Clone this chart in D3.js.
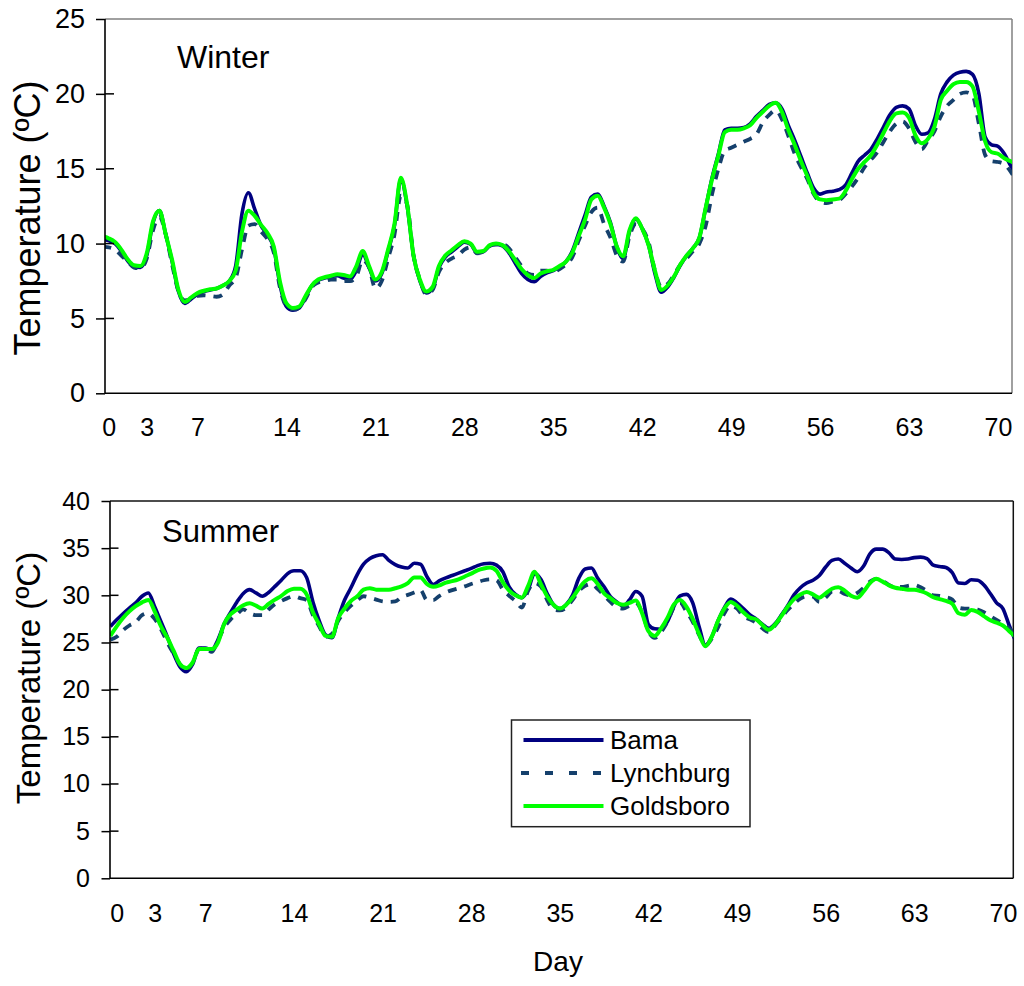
<!DOCTYPE html>
<html>
<head>
<meta charset="utf-8">
<script src="https://cdn.jsdelivr.net/npm/d3@7"></script>
<style>
  body { margin: 0; background: #fff; }
  svg { display: block; }
  text { font-family: "Liberation Sans", Arial, sans-serif; fill: #000; }
</style>
</head>
<body>
<svg id="chart" width="1024" height="986"></svg>
<script>
// ---------------- DATA ----------------
const seriesNames = ["Bama", "Lynchburg", "Goldsboro"];
const xTickDays = [0, 3, 7, 14, 21, 28, 35, 42, 49, 56, 63, 70];
const winterYTicks = [0, 5, 10, 15, 20, 25];
const summerYTicks = [0, 5, 10, 15, 20, 25, 30, 35, 40];
const dayStart = -0.5;   // first sample (day)
const dayStep = 0.5;     // sampling step (day)

// Winter temperatures (ºC), sampled every half day from day -0.5 to 71.5
const winterBama = [
  10.3, 10.2, 10.0, 9.5, 8.85, 8.45, 8.4, 9.2, 11.4, 12.2,
  10.6, 8.8, 6.8, 6.0, 6.3, 6.6, 6.8, 6.9, 7.0, 7.2,
  7.5, 8.5, 12.0, 13.4, 12.3, 11.2, 10.6, 9.7, 7.2, 5.8,
  5.55, 5.7, 6.4, 7.2, 7.55, 7.7, 7.8, 7.85, 7.7, 7.6,
  8.2, 9.3, 8.4, 7.5, 8.0, 9.5, 11.2, 14.3, 12.5, 9.2,
  7.5, 6.7, 7.0, 8.4, 9.1, 9.45, 9.8, 10.1, 9.95, 9.4,
  9.45, 9.85, 9.95, 9.85, 9.4, 8.7, 8.0, 7.6, 7.45, 7.8,
  8.05, 8.2, 8.45, 8.8, 9.5, 10.7, 11.9, 13.1, 13.3, 12.5,
  11.4, 9.8, 9.0, 10.8, 11.65, 11.0, 9.9, 8.0, 6.75, 7.1,
  7.75, 8.55, 9.2, 9.7, 10.4, 12.4, 14.4, 16.0, 17.6, 17.7,
  17.7, 17.75, 18.0, 18.5, 18.9, 19.3, 19.4, 19.0, 17.9, 16.9,
  15.8, 14.7, 13.7, 13.3, 13.45, 13.5, 13.6, 13.9, 14.7, 15.5,
  15.9, 16.3, 17.0, 17.8, 18.6, 19.1, 19.2, 19.0, 17.9, 17.3,
  17.4, 18.3, 20.0, 20.8, 21.25, 21.45, 21.5, 21.3, 20.0, 17.1,
  16.6, 16.5, 16.0, 15.2, 14.5
];
const winterLynchburg = [
  9.8, 9.75, 9.6, 9.2, 8.8, 8.4, 8.35, 9.0, 10.9, 11.8,
  10.6, 8.6, 6.8, 6.2, 6.3, 6.5, 6.55, 6.5, 6.45, 6.6,
  7.2, 7.7, 9.6, 11.2, 11.3, 10.8, 10.3, 9.4, 7.0, 5.8,
  5.6, 5.7, 6.3, 7.1, 7.4, 7.5, 7.6, 7.6, 7.5, 7.5,
  7.8, 8.9, 8.4, 7.0, 7.5, 9.0, 10.6, 13.2, 12.6, 9.2,
  7.6, 6.6, 6.9, 8.1, 8.7, 9.0, 9.2, 9.6, 9.75, 9.35,
  9.45, 9.85, 9.95, 9.95, 9.7, 9.1, 8.5, 8.0, 7.9, 8.2,
  8.2, 8.1, 8.3, 8.6, 9.1, 10.2, 11.2, 12.1, 12.4, 11.3,
  10.4, 9.2, 8.8, 10.5, 11.3, 11.0, 10.1, 8.2, 7.1, 7.3,
  7.9, 8.6, 9.0, 9.5, 10.0, 11.2, 13.3, 15.0, 16.2, 16.4,
  16.6, 16.8, 17.0, 17.3, 18.1, 18.6, 18.9, 18.3, 17.2, 16.0,
  15.1, 14.3, 13.3, 12.8, 12.7, 12.8, 12.9, 13.3, 13.8, 14.4,
  15.1, 15.6, 16.1, 16.8, 17.5, 18.0, 18.15, 17.7, 16.8, 16.3,
  16.9, 17.5, 18.5, 19.2, 19.6, 20.0, 20.1, 19.9, 18.0, 15.9,
  15.5, 15.45, 15.3, 14.8, 14.1
];
const winterGoldsboro = [
  10.5, 10.35, 10.1, 9.6, 8.95, 8.55, 8.5, 9.35, 11.5, 12.2,
  10.6, 8.9, 6.9, 6.1, 6.4, 6.7, 6.85, 6.95, 7.0, 7.2,
  7.5, 8.2, 10.8, 12.2, 11.85, 11.25, 10.7, 9.8, 7.4, 6.0,
  5.7, 5.8, 6.5, 7.2, 7.6, 7.75, 7.85, 7.95, 7.9, 7.8,
  8.5, 9.5, 8.5, 7.6, 8.1, 9.6, 11.3, 14.4, 12.6, 9.2,
  7.6, 6.8, 7.1, 8.5, 9.2, 9.55, 9.9, 10.15, 10.0, 9.45,
  9.5, 9.9, 10.0, 9.9, 9.5, 8.9, 8.3, 7.9, 7.7, 8.0,
  8.15, 8.25, 8.5, 8.8, 9.4, 10.5, 11.6, 12.95, 13.2, 12.4,
  11.3, 9.8, 9.15, 10.9, 11.7, 11.0, 9.9, 8.2, 6.9, 7.2,
  7.8, 8.6, 9.2, 9.7, 10.4, 12.4, 14.3, 15.9, 17.45, 17.6,
  17.6, 17.7, 17.9, 18.4, 18.8, 19.2, 19.4, 18.8, 17.6, 16.6,
  15.5, 14.5, 13.4, 12.95, 12.9, 12.95, 13.0, 13.5, 14.3, 15.0,
  15.45, 15.9, 16.6, 17.4, 18.2, 18.7, 18.75, 18.4, 17.25, 16.7,
  17.0, 17.8, 19.6, 20.2, 20.65, 20.8, 20.8, 20.5, 18.8, 16.8,
  16.1, 16.0, 15.7, 15.5, 15.3
];

// Summer temperatures (ºC), sampled every half day from day -0.5 to 71.5
const summerBama = [
  26.7, 27.4, 28.05, 28.65, 29.2, 29.9, 30.25, 28.8, 27.2, 25.6,
  23.8, 22.4, 21.9, 22.7, 24.4, 24.4, 24.2, 25.3, 27.0, 28.2,
  29.3, 30.2, 30.6, 30.25, 29.9, 30.3, 30.95, 31.6, 32.3, 32.6,
  32.6, 31.9, 29.3, 27.3, 25.8, 25.5, 27.6, 29.5, 30.8, 32.2,
  33.3, 33.9, 34.2, 34.3, 33.7, 33.25, 33.0, 32.9, 33.4, 33.3,
  32.0, 31.15, 31.55, 31.85, 32.1, 32.35, 32.6, 32.85, 33.15, 33.35,
  33.4, 33.2, 32.5, 30.9, 30.1, 29.75, 30.6, 32.3, 31.7, 30.2,
  29.0, 28.6, 29.0, 30.0, 31.8, 32.8, 32.9, 31.8, 30.9, 29.85,
  29.3, 28.85, 29.5, 30.4, 29.9, 26.9, 26.45, 26.4, 27.2, 28.8,
  29.95, 30.1, 29.2, 26.7, 24.7, 25.6, 27.3, 28.7, 29.6, 29.2,
  28.6, 27.95, 27.5, 26.95, 26.5, 27.0, 27.9, 28.9, 30.05, 30.8,
  31.3, 31.6, 32.1, 33.0, 33.7, 33.85, 33.4, 32.9, 32.5, 33.1,
  34.4, 34.9, 34.9, 34.5, 33.85, 33.8, 33.85, 34.0, 34.05, 33.9,
  33.2, 33.05, 32.95, 32.4, 31.3, 31.25, 31.65, 31.6, 31.1, 30.2,
  29.2, 28.6, 26.8, 25.2, 24.5
];
const summerLynchburg = [
  25.3, 25.6, 26.3, 26.8, 27.15, 27.9, 28.1, 27.5, 26.4, 25.0,
  23.8, 22.7, 22.1, 22.8, 24.3, 24.4, 24.0, 25.2, 26.6, 27.45,
  28.0, 28.5, 28.1, 27.9, 27.9, 28.5, 29.05, 29.4, 29.7, 29.9,
  29.7, 29.5, 27.9, 26.7, 25.6, 25.9, 27.3, 28.2, 28.9, 29.45,
  29.9, 29.75, 29.55, 29.35, 29.3, 29.35, 29.8, 30.05, 30.3, 30.55,
  29.5, 29.5, 29.95, 30.3, 30.55, 30.75, 30.95, 31.2, 31.4, 31.6,
  31.7, 31.6, 30.6, 29.95, 29.4, 28.7, 30.5, 31.3, 30.95, 29.5,
  28.5, 28.4, 28.7, 29.5, 30.45, 31.0, 31.2, 30.65, 30.0, 29.3,
  28.75, 28.6, 28.9, 29.2, 28.2, 26.2, 25.5, 26.1, 27.2, 28.7,
  29.2, 28.3, 27.2, 25.8, 24.7, 25.4, 26.6, 28.1, 28.9, 28.6,
  27.75, 27.45, 27.1, 26.5, 26.1, 26.8, 27.65, 28.45, 29.1, 29.65,
  29.9, 29.85, 29.3, 29.75, 30.4, 30.45, 30.15, 30.0, 30.25, 30.8,
  31.45, 31.75, 31.55, 31.1, 30.9, 30.9, 31.0, 31.1, 30.85, 30.45,
  30.0, 29.95, 29.8, 29.55, 28.7, 28.6, 28.6, 28.5, 28.2, 27.8,
  27.4, 27.0, 26.5, 25.8, 25.3
];
const summerGoldsboro = [
  25.7, 26.7, 27.6, 28.3, 28.85, 29.25, 29.5, 28.3, 26.7, 25.5,
  24.1, 22.7, 22.3, 22.9, 24.3, 24.3, 24.3, 25.0, 27.0, 28.0,
  28.5, 28.95, 29.15, 28.9, 28.6, 29.1, 29.55, 29.95, 30.45, 30.7,
  30.7, 30.1, 28.2, 26.9, 25.7, 25.6, 27.6, 28.6, 29.4, 29.9,
  30.6, 30.75, 30.6, 30.6, 30.6, 30.75, 30.95, 31.3, 31.9, 31.9,
  31.2, 30.9, 31.05, 31.35, 31.5, 31.7, 32.0, 32.3, 32.65, 32.85,
  32.95, 32.6, 31.4, 30.5, 30.0, 29.75, 31.0, 32.5, 31.2, 29.9,
  29.0, 28.6, 29.0, 29.75, 30.7, 31.5, 31.8, 31.2, 30.2, 29.7,
  29.2, 29.0, 29.2, 29.45, 28.1, 26.2, 25.7, 26.5, 27.6, 29.0,
  29.5, 28.8, 27.5, 25.9, 24.6, 25.6, 27.3, 28.6, 29.3, 28.9,
  28.2, 27.65, 27.45, 26.85, 26.35, 26.9, 27.8, 28.8, 29.6, 30.1,
  30.35, 30.1, 29.75, 30.2, 30.7, 30.85, 30.5, 29.95, 29.75, 30.4,
  31.3, 31.75, 31.45, 31.05, 30.8, 30.7, 30.6, 30.6, 30.45, 30.2,
  29.8, 29.6, 29.4, 29.1, 28.1, 27.95, 28.45, 28.25, 27.8, 27.35,
  27.1, 26.8, 26.2, 25.6, 25.2
];

// ---------------- STYLE ----------------
const seriesStyle = {
  Bama:      { color: "#000080", width: 3.6, dash: null },
  Lynchburg: { color: "#15406c", width: 3.8, dash: "9,8" },
  Goldsboro: { color: "#00ff00", width: 4.0, dash: null }
};

const svg = d3.select("#chart");

function drawPanel(cfg) {
  const g = svg.append("g");
  const x = d3.scaleLinear().domain([0, 70]).range([cfg.x0, cfg.x70]);
  const y = d3.scaleLinear().domain(cfg.yDomain).range([cfg.bottom, cfg.top]);

  // clip
  const clipId = "clip-" + cfg.id;
  svg.append("defs").append("clipPath").attr("id", clipId)
    .append("rect")
    .attr("x", cfg.left).attr("y", cfg.top - 5)
    .attr("width", cfg.right - cfg.left).attr("height", cfg.bottom - cfg.top + 5);

  // frame top / right
  g.append("line").attr("x1", cfg.left).attr("x2", cfg.right)
    .attr("y1", cfg.top).attr("y2", cfg.top)
    .attr("stroke", cfg.frameColor).attr("stroke-width", 1.5);
  g.append("line").attr("x1", cfg.right).attr("x2", cfg.right)
    .attr("y1", cfg.top).attr("y2", cfg.bottom)
    .attr("stroke", cfg.frameColor).attr("stroke-width", 1.5);

  // series
  const lineGen = d3.line()
    .x((v, i) => x(dayStart + i * dayStep))
    .y(v => y(v))
    .curve(d3.curveMonotoneX);
  const lg = g.append("g").attr("clip-path", `url(#${clipId})`);
  cfg.series.forEach((vals, k) => {
    const st = seriesStyle[seriesNames[k]];
    lg.append("path")
      .datum(vals)
      .attr("d", lineGen)
      .attr("fill", "none")
      .attr("stroke", st.color)
      .attr("stroke-width", st.width)
      .attr("stroke-linejoin", "round")
      .attr("stroke-dasharray", st.dash);
  });

  // y axis
  const yAxis = d3.axisLeft(y).tickValues(cfg.yTicks).tickSize(cfg.tickLen)
    .tickSizeOuter(0).tickPadding(cfg.yPad).tickFormat(d3.format("d"));
  const ya = g.append("g").attr("transform", `translate(${cfg.left},0)`).call(yAxis);
  ya.select(".domain").remove();
  ya.selectAll(".tick line").attr("stroke", "#000").attr("stroke-width", 1.5);
  ya.selectAll(".tick text").attr("font-size", cfg.yFont)
    .attr("font-family", '"Liberation Sans", Arial, sans-serif').attr("fill", "#000");
  // inward part of crossing ticks
  g.selectAll(".intick").data(cfg.yTicks.filter(t => t !== cfg.yDomain[0] && t !== cfg.yDomain[1]))
    .enter().append("line")
    .attr("x1", cfg.left).attr("x2", cfg.left + cfg.tickLen)
    .attr("y1", d => y(d)).attr("y2", d => y(d))
    .attr("stroke", "#000").attr("stroke-width", 1.5);

  // axis lines
  g.append("line").attr("x1", cfg.left).attr("x2", cfg.left)
    .attr("y1", cfg.top).attr("y2", cfg.bottom)
    .attr("stroke", "#000").attr("stroke-width", 1.6);
  g.append("line").attr("x1", cfg.left).attr("x2", cfg.right)
    .attr("y1", cfg.bottom).attr("y2", cfg.bottom)
    .attr("stroke", "#000").attr("stroke-width", 1.6);

  // x axis labels (no ticks)
  const xAxis = d3.axisBottom(x).tickValues(xTickDays).tickSize(0)
    .tickPadding(cfg.xPad).tickFormat(d3.format("d"));
  const xa = g.append("g").attr("transform", `translate(0,${cfg.bottom})`).call(xAxis);
  xa.select(".domain").remove();
  xa.selectAll(".tick text").attr("font-size", cfg.xFont)
    .attr("font-family", '"Liberation Sans", Arial, sans-serif').attr("fill", "#000");

  // y title
  g.append("text")
    .attr("transform", `translate(${cfg.titleX},${cfg.titleY}) rotate(-90)`)
    .attr("text-anchor", "middle")
    .attr("font-size", cfg.titleFont)
    .text("Temperature (ºC)");

  // season label
  g.append("text").attr("x", cfg.seasonX).attr("y", cfg.seasonY)
    .attr("font-size", cfg.seasonFont).text(cfg.season);

  return { x, y, g };
}

drawPanel({
  id: "winter", season: "Winter",
  left: 105, right: 1012, top: 19, bottom: 393.3,
  x0: 108.6, x70: 997.95, yDomain: [0, 25], yTicks: winterYTicks,
  frameColor: "#808080", tickLen: 9, yPad: 11, yFont: 27,
  xPad: 24.8, xFont: 25,
  titleX: 40, titleY: 218, titleFont: 36,
  seasonX: 177, seasonY: 68, seasonFont: 32,
  series: [winterBama, winterLynchburg, winterGoldsboro]
});

drawPanel({
  id: "summer", season: "Summer",
  left: 110, right: 1013.3, top: 501, bottom: 878.3,
  x0: 116.7, x70: 1002.9, yDomain: [0, 40], yTicks: summerYTicks,
  frameColor: "#111", tickLen: 8.5, yPad: 11.5, yFont: 25,
  xPad: 25.6, xFont: 25,
  titleX: 40, titleY: 678, titleFont: 33,
  seasonX: 162, seasonY: 541.5, seasonFont: 31,
  series: [summerBama, summerLynchburg, summerGoldsboro]
});

// x axis title
svg.append("text").attr("x", 558).attr("y", 971)
  .attr("text-anchor", "middle").attr("font-size", 28).text("Day");

// legend
const legend = svg.append("g");
legend.append("rect").attr("x", 511.5).attr("y", 720).attr("width", 238.5).attr("height", 106.7)
  .attr("fill", "#fff").attr("stroke", "#222").attr("stroke-width", 1.5);
const legendY = d3.scalePoint().domain(seriesNames).range([740, 806]);
seriesNames.forEach(name => {
  const st = seriesStyle[name];
  legend.append("line")
    .attr("x1", name === "Lynchburg" ? 521 : 523.5).attr("x2", 603.5)
    .attr("y1", legendY(name)).attr("y2", legendY(name))
    .attr("stroke", st.color).attr("stroke-width", st.width + 0.2)
    .attr("stroke-dasharray", name === "Lynchburg" ? "8,16" : null);
  legend.append("text").attr("x", 610).attr("y", legendY(name) + 9)
    .attr("font-size", 26).text(name);
});
</script>
</body>
</html>
